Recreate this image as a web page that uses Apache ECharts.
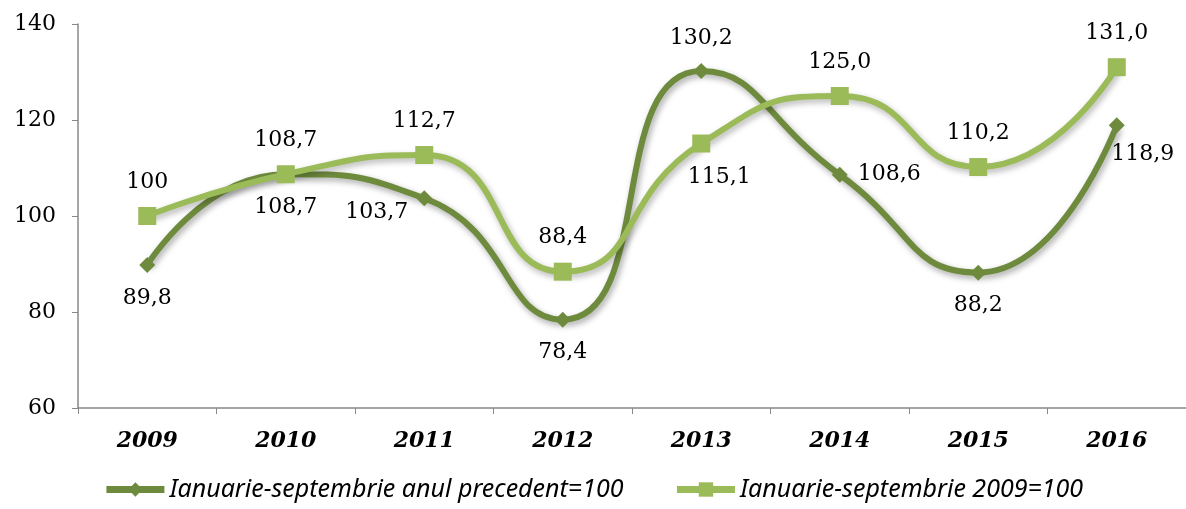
<!DOCTYPE html>
<html>
<head>
<meta charset="utf-8">
<script src="https://cdn.jsdelivr.net/npm/echarts@6/dist/echarts.min.js"></script>
<style>
  html, body { margin: 0; padding: 0; background: #fff; }
  #chart { width: 1186px; height: 509px; }
</style>
</head>
<body>
<div id="chart"></div>
<script>
var years = ['2009', '2010', '2011', '2012', '2013', '2014', '2015', '2016'];
var prevYear = [89.8, 108.7, 103.7, 78.4, 130.2, 108.6, 88.2, 118.9];
var base2009 = [100, 108.7, 112.7, 88.4, 115.1, 125.0, 110.2, 131.0];
var prevYearLabels = ['89,8', '108,7', '103,7', '78,4', '130,2', '108,6', '88,2', '118,9'];
var base2009Labels = ['100', '108,7', '112,7', '88,4', '115,1', '125,0', '110,2', '131,0'];
var yTicks = [60, 80, 100, 120, 140];

var serif = '"DejaVu Serif", "Liberation Serif", serif';

// where each value label sits relative to its point
var prevPos = ['bottom', 'bottom', 'left', 'bottom', 'top', 'right', 'bottom', 'bottom'];
var basePos = ['top', 'top', 'top', 'top', 'bottom', 'top', 'top', 'top'];

function buildData(vals, labels, pos, extra) {
    return vals.map(function (v, i) {
        var lbl = { position: pos[i], formatter: labels[i] };
        if (extra && extra[i]) Object.assign(lbl, extra[i]);
        return { value: v, label: lbl };
    });
}

var chart = echarts.init(document.getElementById('chart'));

var option = {
    animation: false,
    grid: { left: 78, top: 24, width: 1120, height: 384 },
    legend: {
        bottom: 2,
        left: 'center',
        itemWidth: 58,
        itemHeight: 18,
        itemGap: 50,
        lineStyle: { width: 7 },
        textStyle: { fontFamily: '"Liberation Sans Narrow", "Noto Sans", sans-serif', fontStyle: 'italic', fontSize: 25, color: '#000' },
        data: ['Ianuarie-septembrie anul precedent=100', 'Ianuarie-septembrie 2009=100']
    },
    xAxis: {
        type: 'category',
        data: years,
        boundaryGap: true,
        axisLine: { lineStyle: { color: '#888', width: 1.5 } },
        axisTick: { show: true, length: 6, lineStyle: { color: '#888' } },
        axisLabel: { fontFamily: serif, fontWeight: 'bold', fontStyle: 'italic', fontSize: 22, color: '#000', margin: 22 }
    },
    yAxis: {
        type: 'value',
        min: yTicks[0],
        max: yTicks[yTicks.length - 1],
        interval: 20,
        axisLine: { show: true, lineStyle: { color: '#888', width: 1.5 } },
        axisTick: { show: true, length: 6, lineStyle: { color: '#888' } },
        splitLine: { show: false },
        axisLabel: { fontFamily: serif, fontSize: 22, color: '#000', margin: 22 }
    },
    series: [
        {
            name: 'Ianuarie-septembrie anul precedent=100',
            type: 'line',
            smooth: 0.55,
            symbol: 'diamond',
            symbolSize: 16,
            z: 2,
            itemStyle: { color: '#6E8B3D' },
            lineStyle: { width: 6, color: '#6E8B3D', shadowColor: 'rgba(0,0,0,0.35)', shadowBlur: 6, shadowOffsetX: 2, shadowOffsetY: 3 },
            label: { show: true, fontFamily: serif, fontSize: 22, color: '#000', distance: 14 },
            data: buildData(prevYear, prevYearLabels, prevPos, { 2: { offset: [6, 14] }, 5: { offset: [-4, 0] }, 7: { offset: [26, -4] } })
        },
        {
            name: 'Ianuarie-septembrie 2009=100',
            type: 'line',
            smooth: 0.55,
            symbol: 'rect',
            symbolSize: 18,
            z: 3,
            itemStyle: { color: '#9BBB59' },
            lineStyle: { width: 6, color: '#9BBB59', shadowColor: 'rgba(0,0,0,0.3)', shadowBlur: 6, shadowOffsetX: 2, shadowOffsetY: 3 },
            label: { show: true, fontFamily: serif, fontSize: 22, color: '#000', distance: 14 },
            data: buildData(base2009, base2009Labels, basePos, { 4: { offset: [18, 0] } })
        }
    ]
};

chart.setOption(option);
</script>
</body>
</html>
